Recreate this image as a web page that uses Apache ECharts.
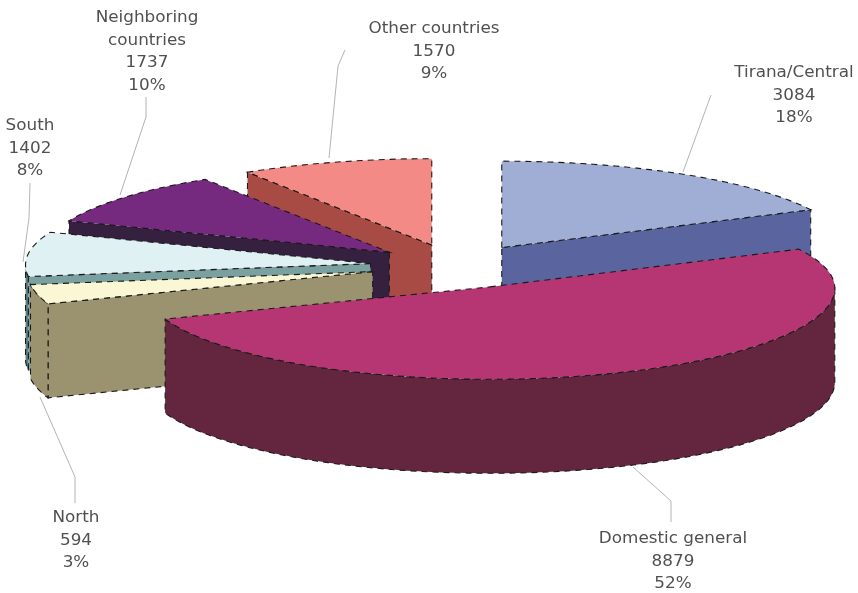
<!DOCTYPE html>
<html><head><meta charset="utf-8">
<style>html,body{margin:0;padding:0;background:#fff}#main{width:858px;height:593px;filter:blur(0.7px)}</style>
<script src="https://cdn.jsdelivr.net/npm/echarts@6/dist/echarts.min.js"></script>
</head><body><div id="main"></div>
<script>
// Data, clockwise from 12 o'clock
const names = ['Tirana/Central','Domestic general','North','South','Neighboring\ncountries','Other countries'];
const values = [3084,8879,594,1402,1737,1570];
const percents = ['18%','52%','3%','8%','10%','9%'];

// Styles
const topColors  = ['#a0aed6','#b53672','#fbf7d5','#e0f1f3','#752a80','#f38a85'];
const wallColors = ['#5a659f','#63263e','#9b9370','#7ba0a0','#35203f','#a84b45'];
const outerColors= ['#5a659f','#63263e','#9b9370','#5f7f80','#35203f','#a84b45'];
// Geometry
const CX=456, CY=266, R0=345, RP=5, KB=0.254, KF=0.264, DEPTH=94, EXPLODE=86;
const drawOrder=[0,5,4,3,2,1];
const labelPos=[[794,72],[673,538],[76,517],[30,125],[147,17],[434,28]];
const leaders=[
 [[711,95],[683,172]],
 [[633,467],[671,501],[671,522]],
 [[40,397],[75,477],[75,503]],
 [[30,183],[29,218],[23,262]],
 [[146,97],[146,117],[120,195]],
 [[345,50],[338,66],[329,158]]
];

const total=values.reduce((a,b)=>a+b,0);
const rad=d=>d*Math.PI/180;
let acc=0;
const spans=values.map(v=>{const s=acc/total*360;acc+=v;return [s,acc/total*360];});
const K=a=>Math.cos(rad(a))>0?KB:KF;
function pt(c,a,r){return [c[0]+r*Math.sin(rad(a)), c[1]-r*K(a)*Math.cos(rad(a))];}
function down(p){return [p[0],p[1]+DEPTH];}
function rim(c,a){return pt(c,a,R0-RP*Math.cos(rad(a)));}
function arc(c,a0,a1){const n=Math.max(2,Math.ceil((a1-a0)/2));const o=[];for(let j=0;j<=n;j++)o.push(rim(c,a0+(a1-a0)*j/n));return o;}
const edge={stroke:'#1a1a1a',lineWidth:1.1,lineDash:[6,5]};
function poly(points,fill){return {type:'polygon',shape:{points},style:Object.assign({fill},edge)};}

function renderSlice(params,api){
  const i=api.value(1);
  const [a0,a1]=spans[i];const mid=(a0+a1)/2;
  const c=pt([CX,CY],mid,EXPLODE);
  const ps=rim(c,a0), pe=rim(c,a1);
  const kids=[];
  if(Math.sin(rad(a0))<0) kids.push(poly([c,ps,down(ps),down(c)],wallColors[i]));
  if(Math.sin(rad(a1))>0) kids.push(poly([c,pe,down(pe),down(c)],wallColors[i]));
  const w0=Math.max(a0,90), w1=Math.min(a1,270);
  if(a0<270 && a1>90){
    const t=arc(c,w0,w1);
    kids.push(poly(t.concat(t.map(down).reverse()),outerColors[i]));
  }
  kids.push(poly([c].concat(arc(c,a0,a1)),topColors[i]));
  return {type:'group',children:kids};
}
function renderLabel(params,api){
  const i=api.value(1);
  const [x,y]=labelPos[i];
  return {type:'group',children:[
    {type:'polyline',shape:{points:leaders[i]},style:{stroke:'#b4b4b4',lineWidth:1,fill:null}},
    {type:'text',x:x,y:y-10,scaleX:1.12,style:{text:names[i]+'\n'+values[i]+'\n'+percents[i],fill:'#505050',
      font:'15px "DejaVu Sans"',align:'center',verticalAlign:'top',lineHeight:22.5}}
  ]};
}
const chart=echarts.init(document.getElementById('main'),null,{renderer:'canvas'});
chart.setOption({
  animation:false,backgroundColor:'#fff',
  series:[
    {type:'custom',coordinateSystem:'none',renderItem:renderSlice,silent:true,
     data:drawOrder.map(i=>[values[i],i])},
    {type:'custom',coordinateSystem:'none',renderItem:renderLabel,silent:true,z:1,
     data:names.map((n,i)=>[values[i],i])}
  ]
});
</script></body></html>
